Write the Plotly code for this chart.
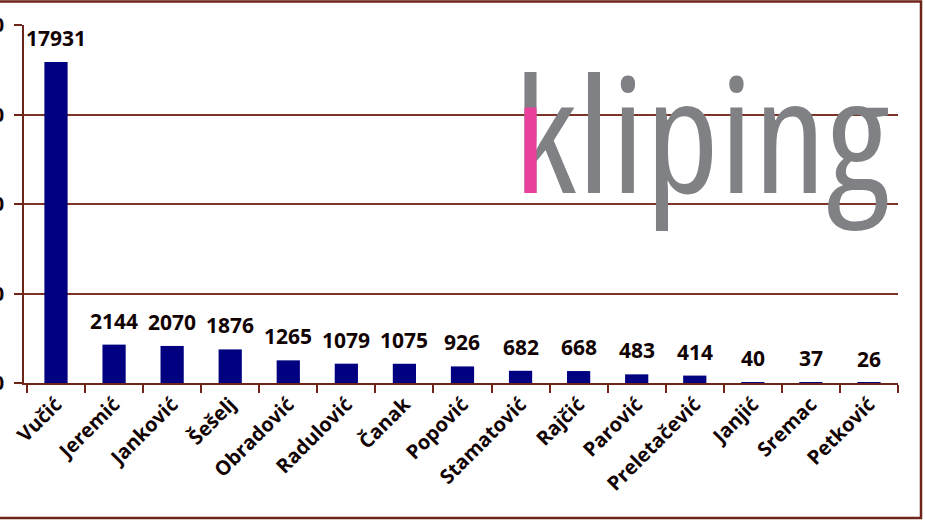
import plotly.graph_objects as go

names = ["Vučić", "Jeremić", "Janković", "Šešelj", "Obradović", "Radulović", "Čanak",
         "Popović", "Stamatović", "Rajčić", "Parović", "Preletačević", "Janjić", "Sremac", "Petković"]
values = [17931, 2144, 2070, 1876, 1265, 1079, 1075, 926, 682, 668, 483, 414, 40, 37, 26]
y_ticks = [0, 5000, 10000, 15000, 20000]

MAROON = "#6e2418"
GRID = "#7d3328"
BAR = "#000080"
TXT = "#120303"
FONT = "Open Sans"

W, H = 925, 521
L, R, T, B = 24, 27, 25, 138
pw, ph = W - L - R, H - T - B

def px_x(x):
    return (x - L) / pw

def px_y(y):
    return (H - B - y) / ph

fig = go.Figure()
fig.add_trace(go.Bar(
    x=names, y=values, marker=dict(color=BAR, line=dict(width=0)),
    width=0.4, hoverinfo="x+y",
))

for n, v in zip(names, values):
    fig.add_annotation(x=n, y=v, text=str(v), showarrow=False, yanchor="bottom",
                       yshift=8, font=dict(family=FONT, size=21, color=TXT, weight="bold"))

# logo text
LOGO_STYLE = "font-stretch:condensed;font-weight:400;letter-spacing:1px"
logo_x = px_x(512)
logo_y = px_y(131)
logo_font = dict(family="Open Sans", size=160)
fig.add_annotation(xref="paper", yref="paper", x=logo_x, y=logo_y, xanchor="left", yanchor="middle",
                   text=f"<span style='{LOGO_STYLE}'>kliping</span>", showarrow=False,
                   font=dict(**logo_font, color="#808184"))
fig.add_annotation(xref="paper", yref="paper", x=logo_x, y=logo_y, xanchor="left", yanchor="middle",
                   text=f"<span style='{LOGO_STYLE}'>ı</span>", showarrow=False,
                   font=dict(**logo_font, color="#e8409b"))

# outer frame
fig.add_shape(type="rect", xref="paper", yref="paper",
              x0=-0.2, x1=px_x(921), y0=px_y(518), y1=px_y(1.5),
              line=dict(color=MAROON, width=2.5), layer="below")

fig.update_layout(
    width=W, height=H,
    margin=dict(l=L, r=R, t=T, b=B, pad=0, autoexpand=False),
    paper_bgcolor="white", plot_bgcolor="white",
    showlegend=False,
    bargap=0.6,
    xaxis=dict(
        automargin=False,
        showgrid=False, showline=True, linecolor=MAROON, linewidth=1.5,
        ticks="outside", tickson="boundaries", ticklen=8, tickcolor=MAROON, tickwidth=1.5,
        tickangle=-45, tickfont=dict(family=FONT, size=20, color=TXT, weight="bold"),
        fixedrange=True,
    ),
    yaxis=dict(
        automargin=False,
        range=[0, 20000], tickvals=y_ticks, ticktext=[str(t) for t in y_ticks],
        showgrid=True, gridcolor=GRID, gridwidth=1.5,
        showline=True, linecolor=MAROON, linewidth=1.5,
        ticks="outside", ticklen=8, tickcolor=MAROON, tickwidth=1.5,
        tickfont=dict(family=FONT, size=20, color=TXT, weight="bold"),
        ticklabelstandoff=6, zeroline=False, fixedrange=True,
    ),
)

fig.write_html("out.html", config={"displayModeBar": False},
               post_script="document.body.style.margin='0';document.body.style.overflow='hidden';")
